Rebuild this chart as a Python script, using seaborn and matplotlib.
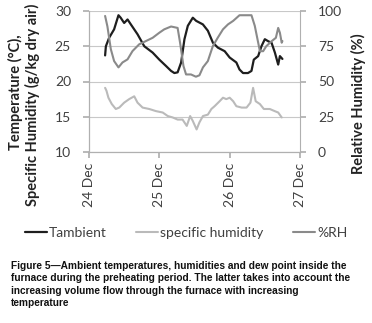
import matplotlib
matplotlib.use("Agg")
import matplotlib.pyplot as plt
import numpy as np
import pandas as pd
import seaborn as sns

# days since 24 Dec 00:00
T_DAY = [0.229, 0.24, 0.286, 0.357, 0.419, 0.45, 0.5, 0.548, 0.595, 0.69, 0.786, 0.905, 1.0,
         1.095, 1.167, 1.214, 1.26, 1.31, 1.357, 1.405, 1.476, 1.524, 1.619, 1.69, 1.762,
         1.833, 1.929, 2.0, 2.095, 2.14, 2.19, 2.26, 2.31, 2.343, 2.405, 2.452, 2.5, 2.55,
         2.595, 2.643, 2.69, 2.714, 2.75]
T_AMB = [23.7, 25.0, 26.2, 27.4, 29.4, 29.05, 28.3, 28.8, 28.1, 26.7, 25.0, 24.1, 23.1,
         22.2, 21.5, 21.2, 21.3, 22.7, 26.0, 27.9, 29.05, 28.6, 28.1, 27.2, 25.5,
         24.8, 24.3, 23.4, 22.7, 21.7, 21.2, 21.2, 21.5, 23.1, 23.6, 25.0, 26.0, 25.7,
         25.5, 24.1, 22.4, 23.6, 23.2]

SH_DAY = [0.229, 0.248, 0.276, 0.324, 0.381, 0.43, 0.5, 0.571, 0.643, 0.69, 0.762, 0.857,
          0.952, 1.048, 1.12, 1.19, 1.26, 1.33, 1.39, 1.438, 1.476, 1.53, 1.57, 1.62, 1.69,
          1.74, 1.786, 1.857, 1.905, 1.952, 2.0, 2.05, 2.095, 2.17, 2.24, 2.295, 2.333,
          2.37, 2.43, 2.486, 2.57, 2.64, 2.69, 2.74]
SPEC_HUM = [19.1, 18.7, 17.7, 16.8, 16.1, 16.3, 17.0, 17.5, 17.9, 17.0, 16.3, 16.1,
            15.8, 15.6, 15.1, 14.9, 14.6, 14.6, 13.7, 15.1, 14.4, 13.2, 14.2, 15.1, 15.3,
            16.1, 16.5, 17.2, 17.7, 17.5, 17.7, 17.2, 16.5, 16.3, 16.3, 17.0, 19.1,
            17.2, 16.8, 16.1, 16.1, 15.8, 15.6, 14.9]

RH_DAY = [0.229, 0.262, 0.31, 0.357, 0.419, 0.476, 0.548, 0.619, 0.714, 0.81, 0.905, 1.0,
          1.07, 1.167, 1.26, 1.295, 1.343, 1.38, 1.45, 1.52, 1.57, 1.62, 1.69, 1.76, 1.83,
          1.905, 1.976, 2.05, 2.14, 2.31, 2.357, 2.43, 2.476, 2.52, 2.595, 2.657, 2.69,
          2.714, 2.74, 2.75]
RH = [96.5, 89, 73, 64.5, 60, 63.5, 65.7, 71.6, 76.4, 78.7, 81, 84.6,
      87, 89, 88, 77.5, 61, 55, 55, 53.4, 54.4, 60, 64.5, 75, 81,
      87, 90.5, 93, 97, 97, 89.5, 71.5, 71.5, 75, 78.5, 81, 88,
      84.6, 77.5, 78.7]

X_TICKS = [0, 1, 2, 3]
X_LABELS = ["24 Dec", "25 Dec", "26 Dec", "27 Dec"]

C_T = "#1e1e1e"
C_SH = "#bababa"
C_RH = "#8a8a8a"
TXT = "#404040"

sns.set_theme(style="white")
plt.rcParams["font.family"] = ["Lato", "DejaVu Sans"]

fig = plt.figure(figsize=(3.72, 3.23), dpi=100)
ax = fig.add_axes([89 / 372, 1 - 152 / 323, 211 / 372, 141 / 323])
ax2 = ax.twinx()

t_df = pd.DataFrame({"day": T_DAY, "val": T_AMB})
sh_df = pd.DataFrame({"day": SH_DAY, "val": SPEC_HUM})
rh_df = pd.DataFrame({"day": RH_DAY, "val": RH})

sns.lineplot(data=sh_df, x="day", y="val", ax=ax, color=C_SH, lw=1.5, label="specific humidity")
sns.lineplot(data=t_df, x="day", y="val", ax=ax, color=C_T, lw=1.6, label="Tambient")
sns.lineplot(data=rh_df, x="day", y="val", ax=ax2, color=C_RH, lw=1.5, label="%RH")

ax.set_xlim(0, 3)
ax.set_ylim(10, 30)
ax2.set_ylim(0, 100)
ax.set_yticks([10, 15, 20, 25, 30])
ax2.set_yticks([0, 25, 50, 75, 100])
ax.set_xticks(X_TICKS)
ax.set_xticklabels(X_LABELS, rotation=90, fontsize=10, color=TXT)
ax.tick_params(axis="y", labelsize=10, colors=TXT, length=4, direction="out", left=True,
               color="#b0b0b0", pad=9)
ax.tick_params(axis="x", length=4, direction="out", bottom=True, color="#b0b0b0", pad=4)
ax2.tick_params(axis="y", labelsize=10, colors=TXT, length=4, direction="out", right=True,
                color="#b0b0b0", pad=9)
ax.grid(axis="y", color="#c8c8c8", lw=0.8)
ax.set_axisbelow(True)

for a in (ax, ax2):
    a.spines["top"].set_visible(False)
    for s in ("left", "right", "bottom"):
        a.spines[s].set_color("#b0b0b0")
        a.spines[s].set_linewidth(0.8)
    a.set_xlabel("")
    a.set_ylabel("")
ax.spines["right"].set_visible(False)

fig.text(15 / 372, 1 - 92 / 323, "Temperature (°C),", rotation=90, ha="center", va="center",
         fontsize=10.5, fontweight="bold", color="#222222")
fig.text(32 / 372, 1 - 105 / 323, "Specific Humidity (g/kg dry air)", rotation=90, ha="center",
         va="center", fontsize=10.5, fontweight="bold", color="#222222")
fig.text(358 / 372, 1 - 104 / 323, "Relative Humidity (%)", rotation=90, ha="center",
         va="center", fontsize=10.5, fontweight="bold", color="#222222")

h1, l1 = ax.get_legend_handles_labels()
h2, l2 = ax2.get_legend_handles_labels()
ax.get_legend().remove()
ax2.get_legend().remove()
handles = [h1[1], h1[0], h2[0]]
labels = [l1[1], l1[0], l2[0]]
fig.legend(handles, labels, loc="center", bbox_to_anchor=(0.5, 1 - 233 / 323), ncol=3,
           frameon=False, fontsize=10, handlelength=1.6, handletextpad=0.15,
           columnspacing=2.1, labelcolor=TXT)

caption = ("Figure 5\u2014Ambient temperatures, humidities and dew point inside the\n"
           "furnace during the preheating period. The latter takes into account the\n"
           "increasing volume flow through the furnace with increasing\n"
           "temperature")
fig.text(11 / 372, 1 - 261 / 323, caption, ha="left", va="top", fontsize=7.3,
         fontweight="bold", color="#111111", linespacing=1.3,
         family=["Liberation Sans Narrow", "Liberation Sans", "DejaVu Sans"])

fig.savefig("out.png", dpi=100)
